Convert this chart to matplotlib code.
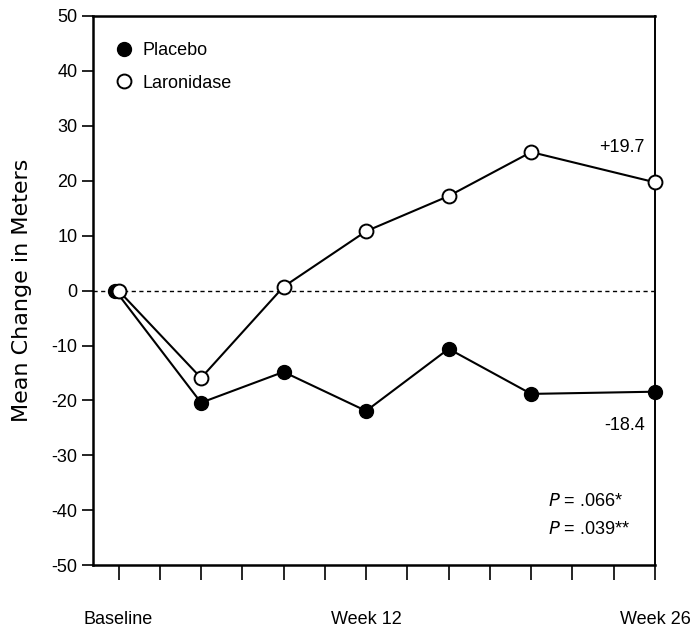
import matplotlib
matplotlib.use("Agg")
import matplotlib.pyplot as plt
from matplotlib import font_manager

names = {f.name for f in font_manager.fontManager.ttflist}
fam = ["Liberation Sans Narrow", "Liberation Sans", "DejaVu Sans"]
fam = [f for f in fam if f in names] or ["DejaVu Sans"]
plt.rcParams["font.family"] = fam

placebo_weeks = [-0.15, 4, 8, 12, 16, 20, 26]
placebo = [0, -20.4, -14.8, -21.9, -10.6, -18.8, -18.4]
laron_weeks = [0, 4, 8, 12, 16, 20, 26]
laronidase = [0, -15.9, 0.7, 10.8, 17.2, 25.2, 19.7]
xticks = list(range(0, 27, 2))
xlabels = {0: "Baseline", 12: "Week 12", 26: "Week 26"}
yticks = list(range(-50, 51, 10))

fig = plt.figure(figsize=(6.92, 6.31), dpi=100)
ax = fig.add_axes([0.134, 0.104, 0.8125, 0.871])

ax.axhline(0, color="black", lw=1.0, ls=(0, (3, 2.5)), zorder=1)
ax.plot(placebo_weeks, placebo, color="black", lw=1.5, marker="o", ms=10,
        mfc="black", mec="black", clip_on=False, zorder=3, label="Placebo")
ax.plot(laron_weeks, laronidase, color="black", lw=1.5, marker="o", ms=10,
        mfc="white", mec="black", mew=1.4, clip_on=False, zorder=4, label="Laronidase")

ax.set_xlim(-1.25, 26)
ax.set_ylim(-50, 50)
ax.set_xticks(xticks)
ax.set_xticklabels([xlabels.get(t, "") for t in xticks], fontsize=13)
ax.set_yticks(yticks)
ax.set_yticklabels([str(t) for t in yticks], fontsize=13)
ax.tick_params(axis="x", direction="out", length=11, width=1.2, pad=22)
ax.tick_params(axis="y", direction="out", length=8, width=1.2, pad=3)
for s in ax.spines.values():
    s.set_linewidth(1.4)
ax.spines["left"].set_linewidth(1.8)
ax.spines["bottom"].set_linewidth(1.8)
ax.spines["top"].set_linewidth(1.8)

ax.set_ylabel("Mean Change in Meters", fontsize=16, labelpad=14,
              family=["DejaVu Sans"])

leg = ax.legend(loc="upper left", bbox_to_anchor=(0.043, 0.952), frameon=False,
                fontsize=13, handlelength=0.8, handletextpad=0.6,
                borderaxespad=0, borderpad=0, labelspacing=0.85)
for h in leg.legend_handles:
    h.set_linestyle("None")

ax.text(25.5, 26.0, "+19.7", fontsize=13, ha="right", va="center")
ax.text(25.5, -24.6, "-18.4", fontsize=13, ha="right", va="center")
ax.text(20.8, -38.4, r"$\it{P}$ = .066*", fontsize=13, ha="left", va="center")
ax.text(20.8, -43.5, r"$\it{P}$ = .039**", fontsize=13, ha="left", va="center")

fig.savefig("out.png", dpi=100)
